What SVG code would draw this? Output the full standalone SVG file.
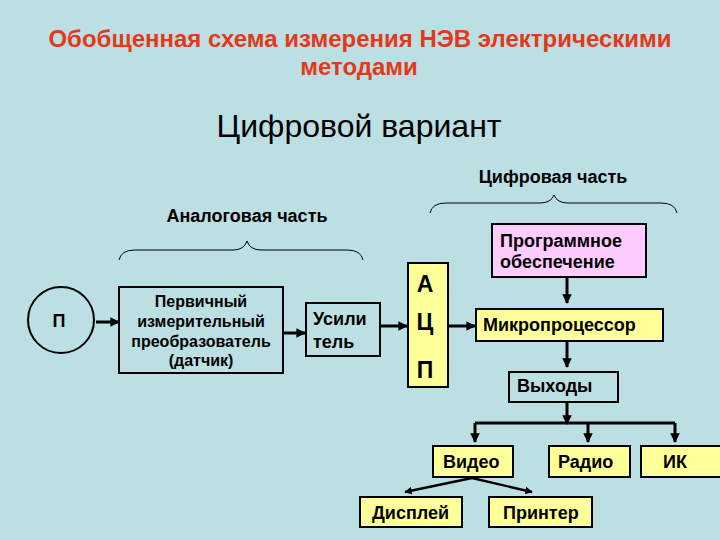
<svg xmlns="http://www.w3.org/2000/svg" width="720" height="540" viewBox="0 0 720 540">
<defs>
<marker id="ah" viewBox="0 0 10 10" refX="9" refY="5" markerWidth="3.2" markerHeight="3.2" orient="auto" markerUnits="strokeWidth">
<path d="M0,0 L10,5 L0,10 Z" fill="#000"/>
</marker>
<style>
.bg{fill:#bcdfe3}
.box{stroke:#000;stroke-width:2}
.y{fill:#ffff99}
.p{fill:#ffccff}
.c{fill:none}
.t{font-family:"Liberation Sans",Arial,sans-serif;fill:#000}
.b{font-weight:bold}
.title{font-family:"Liberation Sans",Arial,sans-serif;font-weight:bold;font-size:24px;fill:#e5381a;text-anchor:middle}
.arr{stroke:#000;stroke-width:3;fill:none;marker-end:url(#ah)}
.arr2{stroke:#000;stroke-width:2.4;fill:none;marker-end:url(#ah)}
.line{stroke:#000;stroke-width:3;fill:none}
.brace{stroke:#000;stroke-width:1;fill:none}
.n{font-size:18px}
</style>
</defs>
<rect class="bg" x="0" y="0" width="720" height="540"/>

<g id="title">
<text class="title" x="360" y="47">Обобщенная схема измерения НЭВ электрическими</text>
<text class="title" x="359" y="75">методами</text>
<text class="t" x="359" y="137" font-size="32" text-anchor="middle">Цифровой вариант</text>
</g>

<g id="digital-label">
<text class="t b" x="553" y="183" font-size="18" text-anchor="middle">Цифровая часть</text>
<path class="brace" d="M430,213 Q432,203 446,203 L540,203 Q551,203 554,195 Q557,203 568,203 L661,203 Q675,203 677,213"/>
</g>

<g id="analog-label">
<text class="t b" x="247" y="222" font-size="18" text-anchor="middle">Аналоговая часть</text>
<path class="brace" d="M119,260 Q121,250 135,250 L233,250 Q244,250 247,241 Q250,250 261,250 L347,250 Q361,250 363,260"/>
</g>

<g id="connectors">
<line class="arr" x1="96" y1="322" x2="119" y2="322"/>
<line class="arr" x1="283" y1="333" x2="305" y2="333"/>
<line class="arr" x1="381" y1="326" x2="407" y2="326"/>
<line class="arr" x1="449" y1="326" x2="475" y2="326"/>
<line class="arr" x1="567" y1="278" x2="567" y2="303"/>
<line class="arr" x1="567" y1="342" x2="567" y2="367"/>
<line class="arr" x1="567" y1="403" x2="567" y2="424"/>
<line class="line" x1="475" y1="423" x2="675" y2="423"/>
<line class="arr" x1="475" y1="423" x2="475" y2="442"/>
<line class="arr" x1="588" y1="423" x2="588" y2="442"/>
<line class="arr" x1="675" y1="423" x2="675" y2="442"/>
<line class="arr2" x1="472" y1="478" x2="405" y2="492"/>
<line class="arr2" x1="472" y1="478" x2="532" y2="492"/>
</g>

<g id="node-p">
<circle class="box c" cx="61" cy="320" r="33" stroke-width="1"/>
<text class="t b" x="59" y="327" font-size="18" text-anchor="middle">П</text>
</g>

<g id="node-sensor">
<rect class="box" x="119" y="287" width="164" height="86" fill="#bcdfe3" stroke-width="1.5"/>
<text class="t b" font-size="16" text-anchor="middle"><tspan x="201" y="307">Первичный</tspan><tspan x="201" y="327">измерительный</tspan><tspan x="201" y="347">преобразователь</tspan><tspan x="201" y="366">(датчик)</tspan></text>
</g>

<g id="node-amp">
<rect class="box" x="306" y="303" width="74" height="53" fill="#bcdfe3"/>
<text class="t b n"><tspan x="313" y="325">Усили</tspan><tspan x="313" y="348">тель</tspan></text>
</g>

<g id="node-adc">
<rect class="box y" x="408" y="263" width="40" height="124"/>
<text class="t b" font-size="23" text-anchor="middle"><tspan x="425" y="292">А</tspan><tspan x="425" y="330">Ц</tspan><tspan x="425" y="378">П</tspan></text>
</g>

<g id="node-software">
<rect class="box p" x="492" y="224" width="154" height="53"/>
<text class="t b n"><tspan x="500" y="247">Программное</tspan><tspan x="500" y="268">обеспечение</tspan></text>
</g>

<g id="node-cpu">
<rect class="box y" x="476" y="309" width="187" height="32"/>
<text class="t b n" x="483" y="331">Микропроцессор</text>
</g>

<g id="node-outputs">
<rect class="box" x="509" y="372" width="109" height="30" fill="#bcdfe3"/>
<text class="t b n" x="517" y="392">Выходы</text>
</g>

<g id="node-video">
<rect class="box y" x="433" y="446" width="80" height="31"/>
<text class="t b n" x="443" y="468">Видео</text>
</g>

<g id="node-radio">
<rect class="box y" x="549" y="446" width="81" height="31"/>
<text class="t b n" x="558" y="468">Радио</text>
</g>

<g id="node-ir">
<rect class="box y" x="641" y="446" width="80" height="31"/>
<text class="t b n" x="663" y="468">ИК</text>
</g>

<g id="node-display">
<rect class="box y" x="360" y="497" width="102" height="30"/>
<text class="t b n" x="372" y="519">Дисплей</text>
</g>

<g id="node-printer">
<rect class="box y" x="489" y="497" width="103" height="30"/>
<text class="t b n" x="503" y="519">Принтер</text>
</g>
</svg>
